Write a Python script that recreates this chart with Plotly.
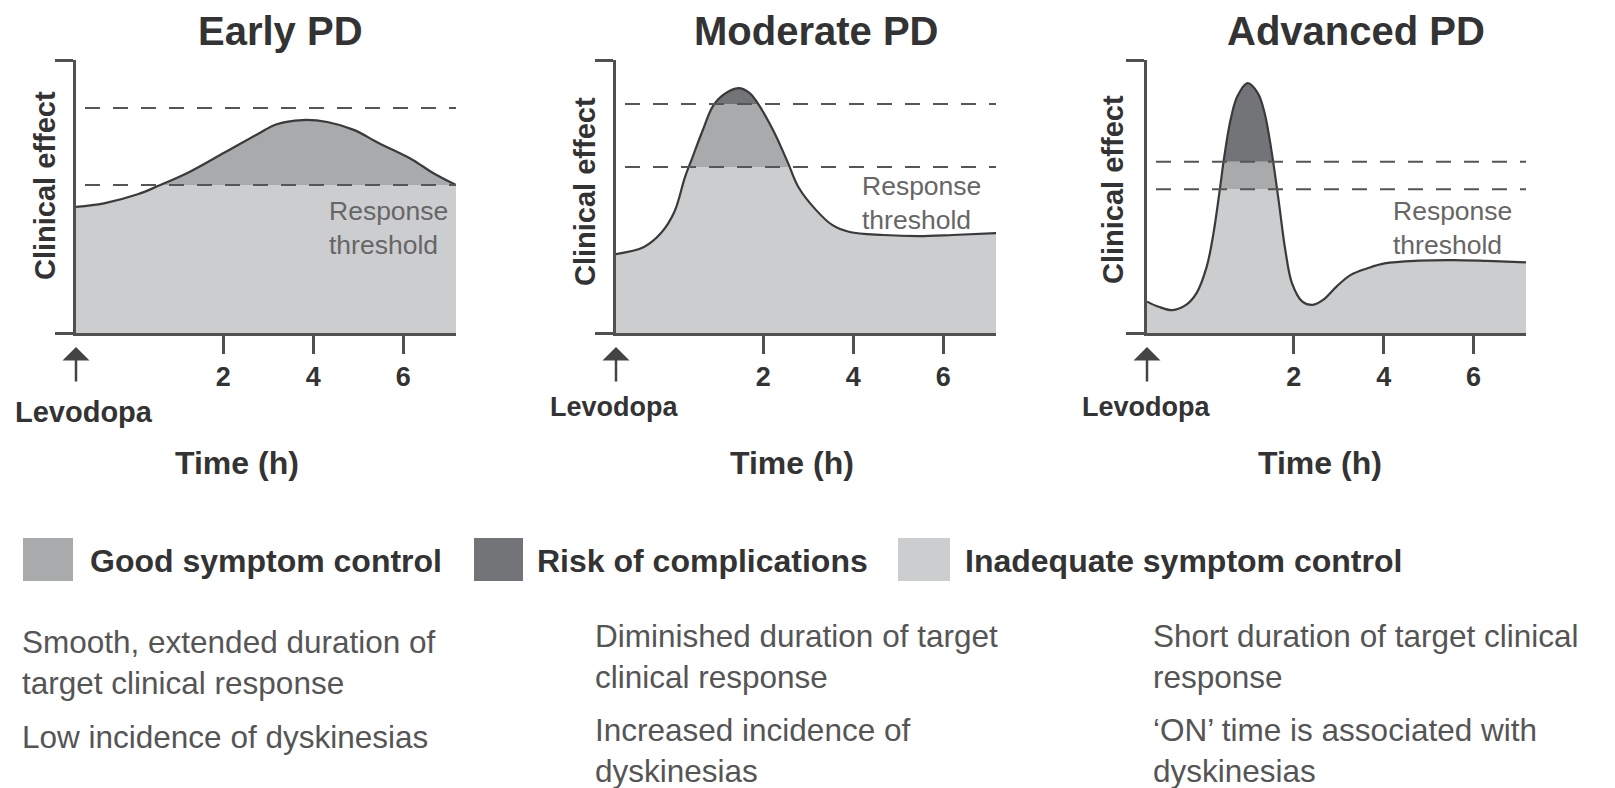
import plotly.graph_objects as go

# ---------------- data ----------------
PANEL_TITLES = ["Early PD", "Moderate PD", "Advanced PD"]

TIME_EARLY = [-1.27, -0.65, 0.10, 0.56, 1.25, 2.02, 2.78, 3.17, 3.76, 4.31, 4.90, 5.45, 6.21, 6.66, 7.17]
EFFECT_EARLY = [46.2, 47.5, 50.8, 53.9, 59.0, 66.0, 73.0, 76.4, 78.0, 77.3, 74.4, 69.6, 63.4, 58.6, 54.2]

TIME_MODERATE = [-1.27, -0.65, -0.27, 0.03, 0.26, 0.42, 0.65, 0.88, 1.11, 1.45, 1.70, 1.93,
                 2.25, 2.55, 2.78, 3.17, 3.53, 3.92, 4.67, 5.45, 6.21, 7.17]
EFFECT_MODERATE = [28.9, 31.5, 36.6, 44.5, 57.0, 64.0, 74.0, 83.0, 87.2, 89.7, 87.9, 82.8,
                   73.3, 62.3, 53.5, 45.1, 39.6, 37.0, 35.9, 35.5, 35.9, 36.6]

TIME_ADVANCED = [-1.27, -1.01, -0.71, -0.40, -0.17, 0.06, 0.21, 0.36, 0.44, 0.59, 0.74, 0.97,
                 1.20, 1.35, 1.50, 1.66, 1.81, 1.96, 2.19, 2.42, 2.65, 2.95, 3.26, 3.64, 4.02,
                 4.78, 5.54, 6.30, 7.17]
EFFECT_ADVANCED = [11.5, 9.6, 8.4, 10.3, 14.5, 24.3, 36.5, 53.6, 63.4, 78.0, 86.6, 91.5,
                   87.8, 80.5, 67.0, 48.7, 30.4, 18.2, 11.5, 10.3, 12.1, 17.0, 21.2, 23.7, 25.5,
                   26.5, 26.7, 26.4, 25.9]

TIMES = [TIME_EARLY, TIME_MODERATE, TIME_ADVANCED]
EFFECTS = [EFFECT_EARLY, EFFECT_MODERATE, EFFECT_ADVANCED]

THRESH_LOW = [54.2, 60.8, 52.7]
THRESH_HIGH = [82.4, 83.9, 62.7]

X_TICKS = [2, 4, 6]
X_RANGE = [-1.27, 7.17]
Y_RANGE = [0, 100]

RESPONSE_LABEL_POS = [(4.30, 38.6), (4.14, 47.6), (4.17, 38.3)]

LEGEND_LABELS = ["Good symptom control", "Risk of complications", "Inadequate symptom control"]

DESCRIPTIONS = [
    ["Smooth, extended duration of<br>target clinical response", "Low incidence of dyskinesias"],
    ["Diminished duration of target<br>clinical response", "Increased incidence of<br>dyskinesias"],
    ["Short duration of target clinical<br>response", "\u2018ON\u2019 time is associated with<br>dyskinesias"],
]

# ---------------- style ----------------
W, H = 1615, 788
FONT = "Arial, 'Liberation Sans', Helvetica, sans-serif"
LIGHT = "#cbcdcf"
MID = "#a8aaac"
DARK = "#727477"
AXIS = "#505050"
TEXT = "#333333"

X_DOMAINS_PX = [(76, 456), (616, 996), (1147, 1526)]
Y_DOMAIN = [1 - 333 / H, 1 - 60 / H]


def px(x):
    return x / W


def py(y):
    return 1 - y / H


fig = go.Figure()
shapes = []
annotations = []

for i in range(3):
    n = "" if i == 0 else str(i + 1)
    xa, ya = "x" + n, "y" + n
    t, e = TIMES[i], EFFECTS[i]
    lo, hi = THRESH_LOW[i], THRESH_HIGH[i]

    # colored bands (clipped by a white mask above the curve)
    for y0, y1, col in [(Y_RANGE[0], lo, LIGHT), (lo, hi, MID), (hi, Y_RANGE[1], DARK)]:
        shapes.append(dict(type="rect", xref=xa, yref=ya, x0=t[0], x1=t[-1], y0=y0, y1=y1,
                           fillcolor=col, line=dict(width=0), layer="below"))

    fig.add_trace(go.Scatter(x=t, y=e, xaxis=xa, yaxis=ya, mode="lines",
                             line=dict(width=0, shape="spline", color="rgba(0,0,0,0)"),
                             hoverinfo="skip", showlegend=False))
    fig.add_trace(go.Scatter(x=t, y=[Y_RANGE[1]] * len(t), xaxis=xa, yaxis=ya, mode="lines",
                             line=dict(width=0), fill="tonexty", fillcolor="white",
                             hoverinfo="skip", showlegend=False))
    fig.add_trace(go.Scatter(x=t, y=e, xaxis=xa, yaxis=ya, mode="lines",
                             line=dict(width=2.2, shape="spline", color="#3a3a3a"),
                             hoverinfo="skip", showlegend=False))

    # threshold dashed lines
    for thr in (lo, hi):
        shapes.append(dict(type="line", xref=xa, yref=ya, x0=t[0] + 0.2, x1=t[-1], y0=thr, y1=thr,
                           line=dict(color="#555555", width=2, dash="15px,13px"), layer="above"))

    # response threshold label
    rx, ry = RESPONSE_LABEL_POS[i]
    annotations.append(dict(xref=xa, yref=ya, x=rx, y=ry, text="Response<br>threshold",
                            showarrow=False, xanchor="left", yanchor="middle", align="left",
                            font=dict(family=FONT, size=26.5, color="#666666")))

    # levodopa arrow (tip just below the x axis, at the dose time)
    annotations.append(dict(xref=xa, yref="paper", x=t[0], y=py(347), ax=0, ay=36, text="",
                            showarrow=True, arrowhead=1, arrowsize=1.8, arrowwidth=2.5,
                            arrowcolor="#444444", standoff=0))

    d0, d1 = X_DOMAINS_PX[i]
    fig.update_layout(**{
        "xaxis" + n: dict(domain=[px(d0), px(d1)], range=X_RANGE, anchor=ya,
                          tickvals=X_TICKS, ticks="outside", ticklen=18, tickwidth=2.5,
                          tickcolor=AXIS, showline=True, linecolor=AXIS, linewidth=2.5,
                          showgrid=False, zeroline=False, ticklabelstandoff=0,
                          tickfont=dict(family=FONT, size=27, color=TEXT, weight="bold"),
                          fixedrange=True),
        "yaxis" + n: dict(domain=Y_DOMAIN, range=Y_RANGE, anchor=xa,
                          tickvals=[Y_RANGE[0], Y_RANGE[1]], ticks="outside", ticklen=18,
                          tickwidth=2.5, tickcolor=AXIS, showticklabels=False,
                          showline=True, linecolor=AXIS, linewidth=2.5,
                          showgrid=False, zeroline=False, fixedrange=True),
    })

# titles, axis labels
TITLE_X = [280, 816, 1356]
TIMEH_X = [237, 792, 1320]
LEVO = [(84, 412, 29), (614, 407, 27), (1146, 407, 27)]
YLAB = [(45, 186), (585, 192), (1113, 190)]
for i in range(3):
    annotations.append(dict(xref="paper", yref="paper", x=px(TITLE_X[i]), y=py(31),
                            text=PANEL_TITLES[i], showarrow=False, xanchor="center", yanchor="middle",
                            font=dict(family=FONT, size=40, color=TEXT, weight="bold")))
    annotations.append(dict(xref="paper", yref="paper", x=px(TIMEH_X[i]), y=py(463),
                            text="Time (h)", showarrow=False, xanchor="center", yanchor="middle",
                            font=dict(family=FONT, size=32, color=TEXT, weight="bold")))
    lx, ly, ls = LEVO[i]
    annotations.append(dict(xref="paper", yref="paper", x=px(lx), y=py(ly),
                            text="Levodopa", showarrow=False, xanchor="center", yanchor="middle",
                            font=dict(family=FONT, size=ls, color=TEXT, weight="bold")))
    yx, yy = YLAB[i]
    annotations.append(dict(xref="paper", yref="paper", x=px(yx), y=py(yy),
                            text="Clinical effect", showarrow=False, textangle=-90,
                            xanchor="center", yanchor="middle",
                            font=dict(family=FONT, size=29, color=TEXT, weight="bold")))

# legend
LEG_SWATCH = [(23, 73, MID), (474, 523, DARK), (898, 950, LIGHT)]
LEG_TEXT_X = [88, 535, 963]
for i in range(3):
    x0, x1, col = LEG_SWATCH[i]
    shapes.append(dict(type="rect", xref="paper", yref="paper", x0=px(x0), x1=px(x1),
                       y0=py(581), y1=py(538), fillcolor=col, line=dict(width=0)))
    annotations.append(dict(xref="paper", yref="paper", x=px(LEG_TEXT_X[i]), y=py(561),
                            text=LEGEND_LABELS[i], showarrow=False, xanchor="left", yanchor="middle",
                            font=dict(family=FONT, size=32, color=TEXT, weight="bold")))

# descriptions
DESC_X = [20, 593, 1151]
DESC_Y = [(662.5, 737), (656, 750.5), (656, 750.5)]
for i in range(3):
    for j, txt in enumerate(DESCRIPTIONS[i]):
        annotations.append(dict(xref="paper", yref="paper", x=px(DESC_X[i]), y=py(DESC_Y[i][j]),
                                text=txt, showarrow=False, xanchor="left", yanchor="middle",
                                align="left",
                                font=dict(family=FONT, size=31.5, color="#555555")))

fig.update_layout(width=W, height=H, margin=dict(l=0, r=0, t=0, b=0),
                  paper_bgcolor="white", plot_bgcolor="rgba(0,0,0,0)",
                  shapes=shapes, annotations=annotations, showlegend=False)

fig.write_html("out.html", config={"displayModeBar": False},
               post_script="document.body.style.margin='0px';")
